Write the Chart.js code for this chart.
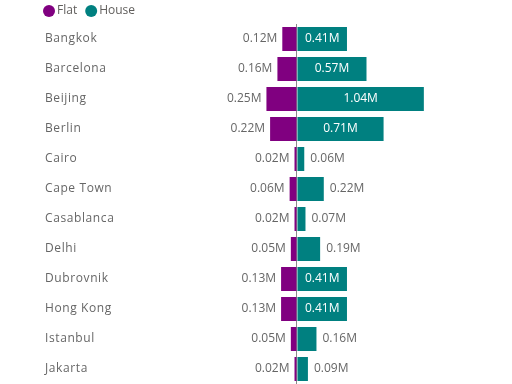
<!DOCTYPE html>
<html>
<head>
<meta charset="utf-8">
<script src="https://cdn.jsdelivr.net/npm/chart.js@4"></script>
<style>
  html, body { margin: 0; padding: 0; background: #fff; }
  #wrap { width: 512px; height: 384px; }
</style>
</head>
<body>
<div id="wrap"><canvas id="chart" width="512" height="384"></canvas></div>
<script>
'use strict';

// ── Data ──────────────────────────────────────────────────────────────
const cities = ['Bangkok', 'Barcelona', 'Beijing', 'Berlin', 'Cairo', 'Cape Town',
  'Casablanca', 'Delhi', 'Dubrovnik', 'Hong Kong', 'Istanbul', 'Jakarta'];
const flatValues  = [0.12, 0.16, 0.25, 0.22, 0.02, 0.06, 0.02, 0.05, 0.13, 0.13, 0.05, 0.02];
const houseValues = [0.41, 0.57, 1.04, 0.71, 0.06, 0.22, 0.07, 0.19, 0.41, 0.41, 0.16, 0.09];
const seriesNames = ['Flat', 'House'];

const PURPLE = '#800080';
const TEAL = '#008080';
const TEXT = '#666666';
const FONT = '"Open Sans", "Noto Sans", sans-serif';

const fmt = v => Math.abs(v).toFixed(2) + 'M';

// ── Legend drawn by hand (circle + name) ──────────────────────────────
const legendPlugin = {
  id: 'miniLegend',
  afterDraw(chart) {
    const ctx = chart.ctx;
    ctx.save();
    ctx.font = '12px ' + FONT;
    ctx.textBaseline = 'middle';
    ctx.textAlign = 'left';
    let x = 43;
    chart.data.datasets.forEach(ds => {
      ctx.fillStyle = ds.backgroundColor;
      ctx.beginPath();
      ctx.arc(x + 6, 11, 6, 0, Math.PI * 2);
      ctx.fill();
      ctx.fillStyle = '#605e5c';
      ctx.fillText(ds.label, x + 14, 11);
      x += 14 + ctx.measureText(ds.label).width + 8;
    });
    ctx.restore();
  }
};

// ── Custom label drawing (category names + value labels) ──────────────
const labelPlugin = {
  id: 'labels',
  afterDatasetsDraw(chart) {
    const ctx = chart.ctx;
    const yScale = chart.scales.y;
    ctx.save();
    ctx.textBaseline = 'middle';

    // category names, left aligned with a little spacing
    ctx.font = '12px ' + FONT;
    ctx.fillStyle = TEXT;
    ctx.textAlign = 'left';
    ctx.letterSpacing = '0.6px';
    cities.forEach((c, i) => {
      ctx.fillText(c, 45, yScale.getPixelForValue(i));
    });
    ctx.letterSpacing = '0px';

    // value labels
    chart.data.datasets.forEach((ds, di) => {
      const meta = chart.getDatasetMeta(di);
      meta.data.forEach((bar, i) => {
        const txt = fmt(ds.data[i]);
        const w = ctx.measureText(txt).width;
        if (di === 0) {
          ctx.fillStyle = TEXT;
          ctx.textAlign = 'right';
          ctx.fillText(txt, bar.x - 5, bar.y);
        } else {
          const len = bar.x - bar.base;
          if (len > w + 6) {
            ctx.fillStyle = '#ffffff';
            ctx.textAlign = 'center';
            ctx.fillText(txt, (bar.x + bar.base) / 2, bar.y);
          } else {
            ctx.fillStyle = TEXT;
            ctx.textAlign = 'left';
            ctx.fillText(txt, bar.x + 6, bar.y);
          }
        }
      });
    });
    ctx.restore();
  }
};

// ── Chart ─────────────────────────────────────────────────────────────
new Chart(document.getElementById('chart'), {
  type: 'bar',
  data: {
    labels: cities,
    datasets: [
      { label: seriesNames[0], data: flatValues.map(v => -v), backgroundColor: PURPLE },
      { label: seriesNames[1], data: houseValues, backgroundColor: TEAL },
    ],
  },
  options: {
    indexAxis: 'y',
    responsive: false,
    animation: false,
    layout: { padding: { left: 33, right: 7, top: 24, bottom: 0 } },
    datasets: { bar: { categoryPercentage: 0.8, barPercentage: 1 } },
    plugins: {
      legend: { display: false },
      tooltip: { enabled: false },
    },
    scales: {
      x: {
        stacked: true,
        min: -1.45,
        max: 1.705,
        ticks: { display: false, stepSize: 0.5 },
        border: { display: false },
        grid: {
          drawTicks: false,
          color: c => (c.tick && c.tick.value === 0 ? '#8a8a8a' : 'transparent'),
          lineWidth: 1,
        },
      },
      y: {
        stacked: true,
        ticks: { display: false },
        border: { display: false },
        grid: { display: false },
        afterFit: s => { s.width = 87; },
      },
    },
  },
  plugins: [labelPlugin, legendPlugin],
});
</script>
</body>
</html>
